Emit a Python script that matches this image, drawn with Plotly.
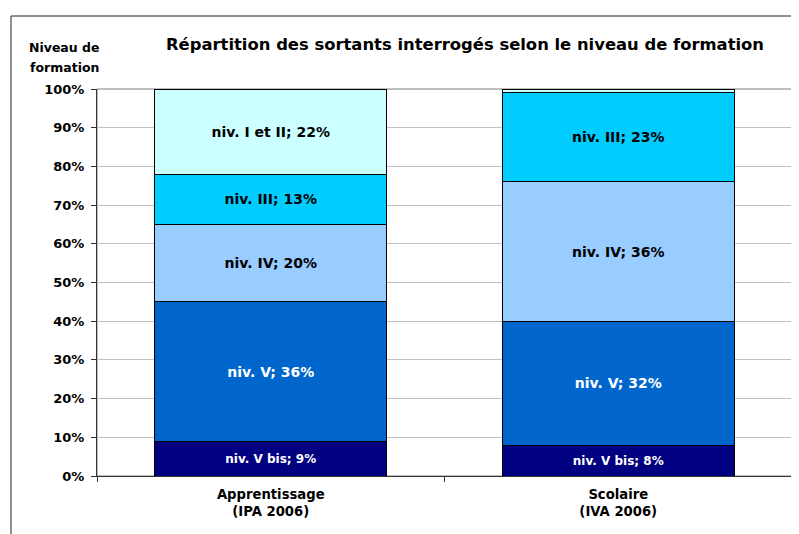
import plotly.graph_objects as go

# ---- data ----
categories = ["Apprentissage<br>(IPA 2006)", "Scolaire<br>(IVA 2006)"]
levels = ["niv. V bis", "niv. V", "niv. IV", "niv. III", "niv. I et II"]
v_bis = [9, 8]
v = [36, 32]
iv = [20, 36]
iii = [13, 23]
i_ii = [22, 1]
series_values = [v_bis, v, iv, iii, i_ii]
y_ticks = [0, 10, 20, 30, 40, 50, 60, 70, 80, 90, 100]
y_tick_labels = [f"{t}%" for t in y_ticks]

colors = ["#000080", "#0066CC", "#99CCFF", "#00CCFF", "#CCFFFF"]
text_colors = ["white", "white", "black", "black", "black"]
text_sizes = [12, 14, 14, 14, 14]

# the page body adds an 8px offset; work in screen pixels and subtract it
OFF = 8
W, H = 799 - OFF, 534 - OFF
L, R, T, B = 97 - OFF, 7, 89 - OFF, 58
PW, PH = W - L - R, H - T - B


def px_x(p):  # screen px -> paper
    return (p - OFF - L) / PW


def px_y(p):
    return (H - B - (p - OFF)) / PH


FONT = "DejaVu Sans"

fig = go.Figure()
for name, vals, col, tc, ts in zip(levels, series_values, colors, text_colors, text_sizes):
    txt = [f"{name}; {val}%" if val >= 5 else "" for val in vals]
    fig.add_trace(go.Bar(
        x=categories, y=vals, name=name,
        marker=dict(color=col, line=dict(color="black", width=1)),
        text=txt, textposition="inside", insidetextanchor="middle",
        textangle=0, constraintext="none",
        textfont=dict(family=FONT, size=ts, color=tc, weight="bold"),
        hoverinfo="skip",
    ))

fig.update_layout(
    width=W, height=H,
    margin=dict(l=L, r=R, t=T, b=B),
    barmode="stack", bargap=0.333,
    showlegend=False,
    plot_bgcolor="white", paper_bgcolor="white",
    font=dict(family=FONT, color="black"),
    title=dict(
        text="Répartition des sortants interrogés selon le niveau de formation",
        x=(465 - OFF) / W, xanchor="center", xref="container",
        y=1 - (44 - OFF) / H, yanchor="middle", yref="container",
        font=dict(family=FONT, size=16.4, color="black", weight="bold"),
    ),
)

fig.update_yaxes(
    range=[0, 100], tickmode="array", tickvals=y_ticks, ticktext=y_tick_labels,
    showgrid=True, gridcolor="#c0c0c0", gridwidth=1,
    showline=True, linecolor="#333333", linewidth=1,
    ticks="outside", ticklen=5, tickcolor="#333333",
    ticklabelstandoff=4,
    tickfont=dict(family=FONT, size=13, color="black", weight="bold"),
    zeroline=False,
)
fig.update_xaxes(
    type="category", tickson="boundaries",
    showgrid=False,
    showline=True, linecolor="#333333", linewidth=1,
    ticks="outside", ticklen=5, tickcolor="#333333",
    ticklabelstandoff=6,
    tickfont=dict(family=FONT, size=13.2, color="black", weight="bold"),
)

# plot-area border (gray) and outer chart frame
fig.add_shape(type="rect", xref="paper", yref="paper", x0=0, x1=1, y0=0, y1=1,
              line=dict(color="#808080", width=1), layer="below")
fig.add_shape(type="line", xref="paper", yref="paper",
              x0=px_x(11), x1=px_x(812), y0=px_y(16), y1=px_y(16),
              line=dict(color="#222222", width=1))
fig.add_shape(type="line", xref="paper", yref="paper",
              x0=px_x(11), x1=px_x(11), y0=px_y(16), y1=px_y(545),
              line=dict(color="#222222", width=1))

# y-axis title
for txt, yp in [("Niveau de", 47), ("formation", 67)]:
    fig.add_annotation(text=txt, xref="paper", yref="paper",
                       x=px_x(64), y=px_y(yp), xanchor="center", yanchor="middle",
                       showarrow=False,
                       font=dict(family=FONT, size=12.5, color="black", weight="bold"))

fig.write_html("out.html")
